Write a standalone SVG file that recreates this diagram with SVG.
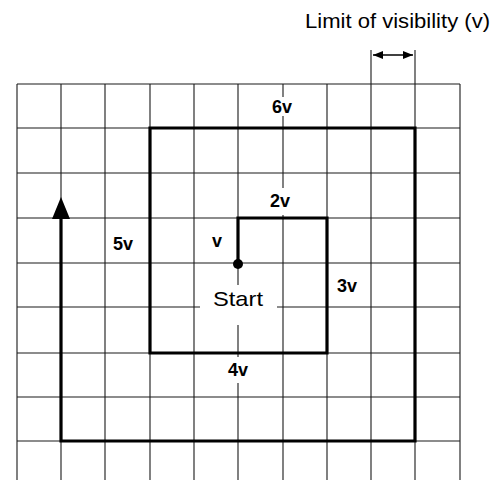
<svg xmlns="http://www.w3.org/2000/svg" width="504" height="480" viewBox="0 0 504 480">
<defs>
<style>
.grid{stroke:#1a1a1a;stroke-width:1.1;fill:none}
.thick{stroke:#000;stroke-width:3.2;fill:none;stroke-linejoin:miter}
.lbl{font-family:"Liberation Sans",Arial,sans-serif;font-weight:bold;font-size:18px;fill:#000;text-anchor:middle}
.title{font-family:"Liberation Sans",Arial,sans-serif;font-size:21px;fill:#000}
.blank{fill:#fff}
</style>
<marker id="ah" viewBox="0 0 10 8" refX="10" refY="4" markerWidth="10" markerHeight="8" markerUnits="userSpaceOnUse" orient="auto-start-reverse">
<path d="M0,0 L10,4 L0,8 Z" fill="#000"/>
</marker>
</defs>
<rect width="504" height="480" fill="#fff"/>
<g id="grid">
<path class="grid" d="M17,84V480M61,84V480M105,84V480M150,84V480M194,84V480M238,84V480M283,84V480M327,84V480M371,50V480M415,50V480M460,84V480"/>
<path class="grid" d="M17,84H460M17,128H460M17,173H460M17,218H460M17,263H460M17,307H460M17,353H460M17,397H460M17,441H460"/>
</g>
<g id="label-backgrounds">
<rect class="blank" x="262" y="97" width="40" height="19"/>
<rect class="blank" x="262" y="188" width="40" height="27"/>
<rect class="blank" x="200" y="285" width="77" height="40"/>
<rect class="blank" x="220" y="357" width="36" height="26"/>
</g>
<g id="connectors">
<path class="thick" d="M238,263V218H327V353H150V128H415V441H61V216"/>
<path d="M61,197L52,219H70Z" fill="#000"/>
<line x1="373" y1="55" x2="413" y2="55" stroke="#000" stroke-width="1.3" marker-start="url(#ah)" marker-end="url(#ah)"/>
</g>
<g id="start">
<circle cx="238" cy="264" r="5" fill="#000"/>
<text class="lbl" x="238" y="306" style="font-weight:normal;font-size:21px" textLength="50" lengthAdjust="spacingAndGlyphs">Start</text>
</g>
<g id="labels">
<text class="title" x="305" y="28" textLength="185" lengthAdjust="spacingAndGlyphs">Limit of visibility (v)</text>
<text class="lbl" x="282" y="113">6v</text>
<text class="lbl" x="280" y="207">2v</text>
<text class="lbl" x="123" y="250">5v</text>
<text class="lbl" x="217" y="247">v</text>
<text class="lbl" x="347" y="292">3v</text>
<text class="lbl" x="238" y="376">4v</text>
</g>
</svg>
